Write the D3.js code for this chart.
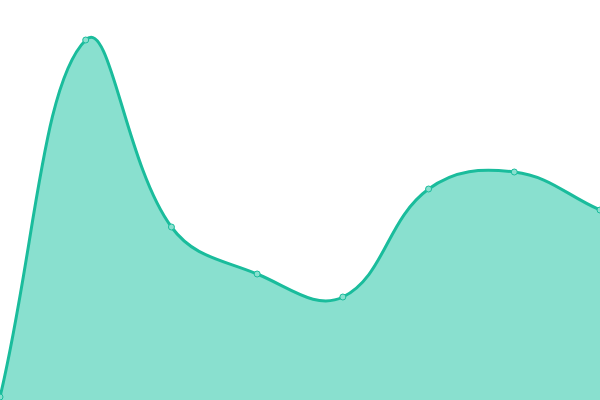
<!DOCTYPE html>
<html><head><meta charset="utf-8">
<script src="https://cdn.jsdelivr.net/npm/d3@7"></script>
<style>html,body{margin:0;padding:0;background:#fff}svg{display:block}</style>
</head><body>
<script>
const labels = ["A","B","C","D","E","F","G","H"];
const values = [0.75, 90, 43.25, 31.5, 25.75, 52.75, 57, 47.5];

const W = 600, H = 400;
const svg = d3.select("body").append("svg").attr("width", W).attr("height", H);
const x = d3.scalePoint().domain(labels).range([0, W]);
const y = d3.scaleLinear().domain([0, 100]).range([H, 0]);
const data = labels.map((l, i) => ({l, v: values[i]}));

// Tension spline curve (control points scaled by neighbour distances), capped to the plot area
function SplineCurve(context, t) { this._context = context; this._t = t; }
SplineCurve.prototype = {
  areaStart() { this._line = 0; },
  areaEnd() { this._line = NaN; },
  lineStart() { this._x = []; this._y = []; },
  point(px, py) { this._x.push(+px); this._y.push(+py); },
  lineEnd() {
    const X = this._x, Y = this._y, n = X.length, t = this._t, c = this._context;
    const cap = (v, lo, hi) => Math.max(lo, Math.min(hi, v));
    if (n) {
      this._line ? c.lineTo(X[0], Y[0]) : c.moveTo(X[0], Y[0]);
      const cp = [];
      for (let i = 0; i < n; i++) {
        const pi = i > 0 ? i - 1 : i, ni = i < n - 1 ? i + 1 : i;
        const d01 = Math.hypot(X[i] - X[pi], Y[i] - Y[pi]);
        const d12 = Math.hypot(X[ni] - X[i], Y[ni] - Y[i]);
        let s01 = d01 / (d01 + d12), s12 = d12 / (d01 + d12);
        if (isNaN(s01)) s01 = 0; if (isNaN(s12)) s12 = 0;
        const fa = t * s01, fb = t * s12;
        const dx = X[ni] - X[pi], dy = Y[ni] - Y[pi];
        cp.push({
          px: cap(X[i] - fa * dx, 0, W), py: cap(Y[i] - fa * dy, 0, H),
          nx: cap(X[i] + fb * dx, 0, W), ny: cap(Y[i] + fb * dy, 0, H)
        });
      }
      for (let i = 1; i < n; i++) {
        c.bezierCurveTo(cp[i-1].nx, cp[i-1].ny, cp[i].px, cp[i].py, X[i], Y[i]);
      }
    }
    if (this._line || (this._line !== 0 && n === 1)) c.closePath();
    this._line = 1 - this._line;
    this._x = this._y = null;
  }
};
const curve = ctx => new SplineCurve(ctx, 0.4);

svg.append("path").datum(data)
  .attr("fill", "#89e0cf")
  .attr("d", d3.area().x(d => x(d.l)).y0(H).y1(d => y(d.v)).curve(curve));
svg.append("path").datum(data)
  .attr("fill", "none").attr("stroke", "#1abc9c").attr("stroke-width", 3)
  .attr("d", d3.line().x(d => x(d.l)).y(d => y(d.v)).curve(curve));
svg.selectAll("circle").data(data).join("circle")
  .attr("cx", d => x(d.l)).attr("cy", d => y(d.v)).attr("r", 3)
  .attr("fill", "#89e0cf").attr("stroke", "#1abc9c").attr("stroke-width", 1);
</script>
</body></html>
